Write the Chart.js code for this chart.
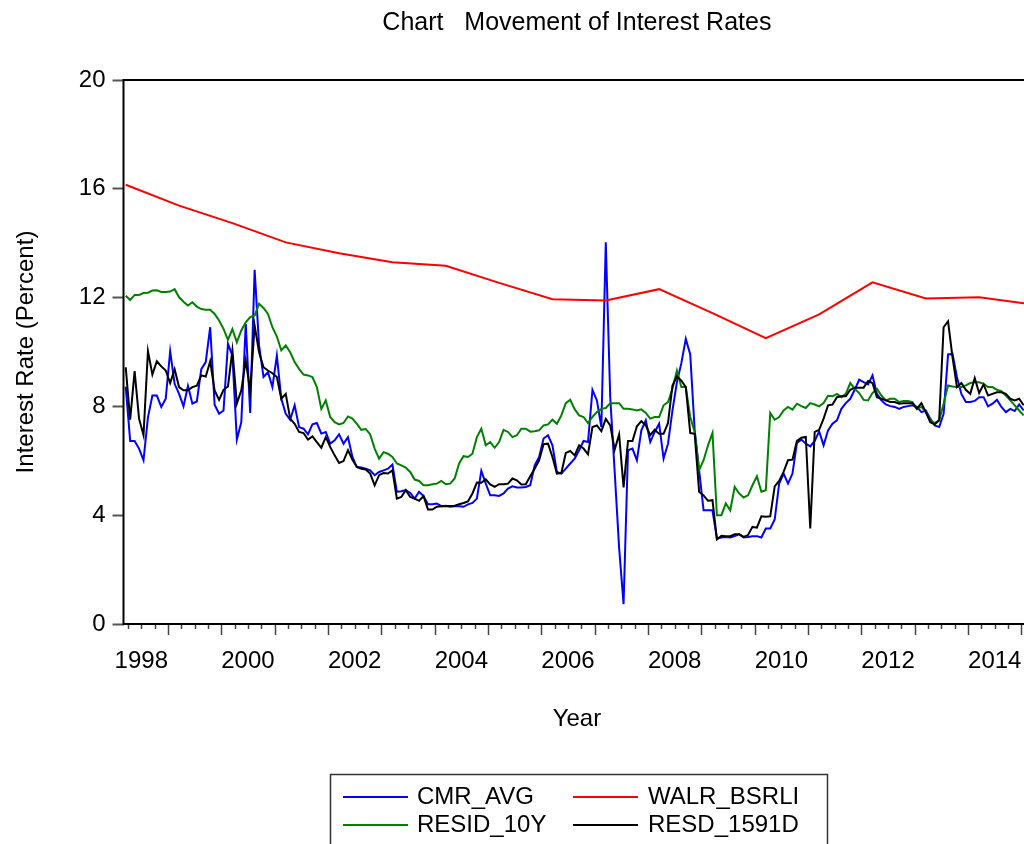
<!DOCTYPE html>
<html>
<head>
<meta charset="utf-8">
<title>Movement of Interest Rates</title>
<script src="https://cdn.jsdelivr.net/npm/chart.js@4.4.1/dist/chart.umd.min.js"></script>
<style>
  html, body { margin: 0; padding: 0; overflow: hidden; background: #fff; }
  #wrap { position: absolute; left: 0; top: 0; width: 1045px; height: 844px; }
</style>
</head>
<body>
<div id="wrap"><canvas id="chart"></canvas></div>
<script>
// monthly sample 1998M03 .. 2015M02 (last visible obs is 2015M01)
const firstYear = 1998;
const firstMonth = 3;
const sampleStart = 1998 + 2 / 12;
const sampleEnd = 2015 + 2 / 12;

const cmrAvg = [
  8.73, 6.73, 6.73, 6.45, 6.02, 7.6, 8.4, 8.4, 7.98, 8.28, 10.03, 8.83, 8.46, 8.0, 8.75, 8.1, 8.18, 9.37, 9.63, 10.91,
  8.06, 7.73, 7.85, 10.3, 9.87, 6.78, 7.42, 11.03, 7.76, 13.02, 10.24, 9.08, 9.26, 8.71,
  9.87, 8.28, 7.73, 7.51, 8.04, 7.24, 7.18, 6.97, 7.34, 7.39, 7.0, 7.06, 6.63, 6.75, 6.97, 6.63, 6.87, 6.14, 5.77, 5.75,
  5.71, 5.65, 5.47, 5.59, 5.65, 5.71, 5.86, 4.86, 4.88, 4.92, 4.82, 4.61, 4.86, 4.7,
  4.40, 4.40, 4.43, 4.33, 4.35, 4.31, 4.33, 4.33, 4.31, 4.40, 4.45, 4.61, 5.63, 5.16, 4.73, 4.73, 4.71, 4.80, 4.98, 5.06,
  5.02, 5.02, 5.04, 5.10, 5.83, 6.14, 6.82, 6.94, 6.57, 5.59, 5.53, 5.71, 5.90,
  6.08,
  6.39, 6.73, 6.69, 8.61, 8.22, 7.24, 14.03, 8.34, 5.6, 2.8, 0.73, 6.39, 6.45, 6.02, 7.12, 7.49, 6.69, 7.06, 7.36, 6.08,
  6.63, 7.85, 8.89, 9.59, 10.48, 9.91, 7.12, 5.65, 4.18, 4.18, 4.18, 3.14, 3.18, 3.20,
  3.18, 3.23, 3.30, 3.18, 3.20, 3.23, 3.23, 3.18, 3.51, 3.51, 3.84, 5.16, 5.53, 5.16, 5.53, 6.66, 6.78, 6.63, 6.53, 6.73,
  7.08, 6.57, 7.12, 7.36, 7.49, 7.91, 8.12, 8.28, 8.61, 8.98, 8.89, 8.81, 9.14,
  8.46, 8.22, 8.07, 8.01, 7.98, 7.91, 7.98, 8.01, 8.04, 7.98, 7.79, 7.85, 7.55, 7.30, 7.24, 7.73, 9.91, 9.93, 9.08, 8.46,
  8.16, 8.16, 8.20, 8.34, 8.34, 8.0, 8.10, 8.24, 7.98, 7.79, 7.91, 7.83, 8.07, 7.85
];

const residTenY = [
  12.07, 11.91, 12.1, 12.1, 12.17, 12.18, 12.26, 12.27, 12.21, 12.21, 12.22, 12.31, 12.01, 11.85, 11.71, 11.83, 11.67, 11.58, 11.55, 11.55,
  11.40, 11.16, 10.85, 10.45, 10.84, 10.36, 10.79, 11.09, 11.28, 11.34, 11.77, 11.62, 11.40, 10.91,
  10.57, 10.06, 10.24, 9.99, 9.63, 9.38, 9.17, 9.14, 9.08, 8.71, 7.91, 8.22, 7.61, 7.42, 7.34, 7.39, 7.63, 7.55, 7.36, 7.14,
  7.17, 6.97, 6.45, 6.08, 6.32, 6.26, 6.14, 5.90, 5.83, 5.75, 5.59, 5.31, 5.26, 5.10,
  5.10, 5.14, 5.16, 5.26, 5.14, 5.16, 5.35, 5.90, 6.17, 6.14, 6.26, 6.87, 7.18, 6.57, 6.69, 6.48, 6.69, 7.14, 7.06, 6.87,
  6.94, 7.18, 7.18, 7.07, 7.09, 7.12, 7.30, 7.34, 7.51, 7.36, 7.67, 8.12, 8.24,
  7.9,
  7.67, 7.61, 7.39, 7.61, 7.79, 7.91, 7.94, 8.12, 8.12, 8.12, 7.91, 7.91, 7.89, 7.85, 7.89, 7.76, 7.55, 7.61, 7.61, 8.04,
  8.16, 8.65, 9.32, 8.71, 8.71, 7.61, 7.06, 5.65, 6.02, 6.57, 7.02, 4.0, 4.0, 4.43,
  4.18, 5.04, 4.80, 4.65, 4.73, 5.10, 5.43, 4.86, 4.92, 7.76, 7.51, 7.61, 7.85, 7.98, 7.88, 8.10, 8.01, 7.94, 8.12, 8.07,
  8.0, 8.12, 8.39, 8.37, 8.46, 8.34, 8.46, 8.86, 8.65, 8.49, 8.24, 8.22, 8.49,
  8.65, 8.40, 8.22, 8.28, 8.28, 8.16, 8.20, 8.20, 8.16, 7.91, 7.98, 7.79, 7.49, 7.39, 7.49, 8.10, 8.77, 8.73, 8.71, 8.71,
  8.77, 8.86, 8.89, 8.89, 8.83, 8.71, 8.71, 8.61, 8.56, 8.40, 8.22, 8.04, 7.85, 7.67
];

const resd1591d = [
  9.44, 7.51, 9.30, 7.55, 6.94, 10.03, 9.17, 9.66, 9.47, 9.32, 8.86, 9.37, 8.71, 8.59, 8.59, 8.71, 8.76, 9.14, 9.10, 9.66,
  8.59, 8.24, 8.61, 8.73, 10.06, 8.1, 8.59, 9.69, 8.56, 10.97, 9.99, 9.44, 9.32, 9.22,
  9.08, 8.28, 8.46, 7.55, 7.36, 7.06, 7.02, 6.78, 6.90, 6.69, 6.48, 6.87, 6.51, 6.20, 5.92, 5.99, 6.39, 6.04, 5.77, 5.71,
  5.68, 5.53, 5.10, 5.47, 5.55, 5.53, 5.65, 4.61, 4.67, 4.92, 4.67, 4.61, 4.53, 4.70,
  4.21, 4.21, 4.31, 4.33, 4.33, 4.34, 4.35, 4.40, 4.45, 4.51, 4.80, 5.20, 5.19, 5.32, 5.13, 5.04, 5.14, 5.14, 5.16, 5.35,
  5.28, 5.13, 5.14, 5.43, 5.71, 6.02, 6.61, 6.63, 6.14, 5.53, 5.55, 6.29, 6.36,
  6.2,
  6.57, 6.45, 6.24, 7.24, 7.30, 7.09, 7.54, 7.30, 6.41, 6.97, 5.02, 6.73, 6.73, 7.27, 7.46, 7.30, 6.94, 7.14, 6.99, 6.99,
  7.39, 8.77, 9.10, 8.95, 8.71, 7.02, 6.99, 4.86, 4.73, 4.53, 4.55, 3.11, 3.24, 3.23,
  3.23, 3.30, 3.30, 3.20, 3.27, 3.57, 3.54, 3.96, 3.94, 3.96, 5.06, 5.26, 5.59, 6.02, 6.04, 6.73, 6.85, 6.88, 3.51, 7.06,
  7.14, 7.55, 8.04, 8.07, 8.34, 8.37, 8.37, 8.61, 8.69, 8.69, 8.69, 8.93, 8.86,
  8.34, 8.28, 8.22, 8.16, 8.16, 8.10, 8.12, 8.12, 8.12, 7.91, 8.12, 7.79, 7.42, 7.34, 7.49, 10.91, 11.13, 9.81, 8.71, 8.86,
  8.61, 8.46, 9.04, 8.49, 8.81, 8.40, 8.46, 8.52, 8.52, 8.46, 8.28, 8.22, 8.28, 8.04
];

// WALR is observed once a year (March)
const walrYears = [1998, 1999, 2000, 2001, 2002, 2003, 2004, 2005, 2006, 2007, 2008, 2009, 2010, 2011, 2012, 2013, 2014, 2015];
const walrBsrli = [16.15, 15.38, 14.74, 14.03, 13.63, 13.30, 13.17, 12.54, 11.94, 11.89, 12.31, 11.43, 10.51, 11.38, 12.56, 11.97, 12.01, 11.75];

const yearLabels = [1998, 2000, 2002, 2004, 2006, 2008, 2010, 2012, 2014];
const yTicks = [0, 4, 8, 12, 16, 20];

const seriesColors = { CMR_AVG: '#0000ff', WALR_BSRLI: '#ff0000', RESID_10Y: '#008000', RESD_1591D: '#000000' };

function monthPoints(values) {
  return values.map((v, i) => ({ x: firstYear + (firstMonth - 1 + i + 0.5) / 12, y: v }));
}

const FONT = '"Liberation Sans", Arial, sans-serif';
Chart.defaults.font.family = FONT;
Chart.defaults.font.size = 24;
Chart.defaults.color = '#000';

// plot frame, quarter/year ticks under the x axis
const frame = {
  id: 'frame',
  afterDatasetsDraw(chart) {
    const { ctx, chartArea: a } = chart;
    const xs = chart.scales.x;
    ctx.save();
    ctx.strokeStyle = '#444';
    ctx.lineWidth = 1.5;
    for (let y = firstYear; y <= 2015; y++) {
      for (let q = 0; q < 4; q++) {
        const v = y + q / 4;
        if (v <= sampleStart || v >= sampleEnd) continue;
        const px = Math.round(xs.getPixelForValue(v)) + 0.5;
        ctx.beginPath();
        ctx.moveTo(px, a.bottom);
        ctx.lineTo(px, a.bottom + (q === 0 ? 11 : 5));
        ctx.stroke();
      }
    }
    ctx.strokeStyle = '#000';
    ctx.lineWidth = 2;
    ctx.strokeRect(a.left, a.top, a.right - a.left, a.bottom - a.top);
    ctx.restore();
  }
};

// boxed two-column legend at the bottom
const boxLegend = {
  id: 'boxLegend',
  afterDraw(chart) {
    const ctx = chart.ctx;
    const ds = chart.data.datasets;
    ctx.save();
    ctx.strokeStyle = '#333';
    ctx.lineWidth = 1.5;
    ctx.strokeRect(330.5, 774.5, 497, 100);
    ctx.font = '24px ' + FONT;
    ctx.textBaseline = 'middle';
    ds.forEach((d, i) => {
      const col = i % 2, row = Math.floor(i / 2);
      const lx = col === 0 ? 343 : 573;
      const ly = row === 0 ? 797 : 825;
      ctx.beginPath();
      ctx.strokeStyle = seriesColors[d.label];
      ctx.lineWidth = 2;
      ctx.moveTo(lx, ly);
      ctx.lineTo(lx + 65, ly);
      ctx.stroke();
      ctx.fillStyle = '#000';
      ctx.fillText(d.label, col === 0 ? 417 : 648, ly);
    });
    ctx.restore();
  }
};

const lineStyle = { borderWidth: 2, pointRadius: 0, tension: 0, fill: false };

new Chart(document.getElementById('chart'), {
  type: 'line',
  data: {
    datasets: [
      { label: 'CMR_AVG', data: monthPoints(cmrAvg), borderColor: seriesColors.CMR_AVG, order: 3, ...lineStyle },
      { label: 'WALR_BSRLI', data: walrYears.map((y, i) => ({ x: y + 2.5 / 12, y: walrBsrli[i] })), borderColor: seriesColors.WALR_BSRLI, order: 2, ...lineStyle },
      { label: 'RESID_10Y', data: monthPoints(residTenY), borderColor: seriesColors.RESID_10Y, order: 1, ...lineStyle },
      { label: 'RESD_1591D', data: monthPoints(resd1591d), borderColor: seriesColors.RESD_1591D, order: 0, ...lineStyle }
    ]
  },
  options: {
    responsive: true,
    maintainAspectRatio: false,
    animation: false,
    layout: { padding: { left: 0, right: 14.5, top: 0, bottom: 110 } },
    plugins: {
      legend: { display: false },
      tooltip: { enabled: false },
      title: {
        display: true,
        fullSize: false,
        text: 'Chart   Movement of Interest Rates',
        color: '#000',
        font: { size: 25, weight: 'normal' },
        padding: { top: 8, bottom: 42 }
      }
    },
    scales: {
      x: {
        type: 'linear',
        min: sampleStart,
        max: sampleEnd,
        afterBuildTicks: s => { s.ticks = yearLabels.map(y => ({ value: y + 0.5 })); },
        afterFit: s => { s.height = 110; },
        ticks: {
          callback: v => String(Math.floor(v)),
          maxRotation: 0,
          autoSkip: false,
          padding: 23,
          color: '#000'
        },
        grid: { display: false, drawTicks: false },
        border: { display: false },
        title: { display: true, text: 'Year', color: '#000', padding: { top: 0, bottom: 0 } }
      },
      y: {
        min: 0,
        max: 20,
        afterBuildTicks: s => { s.ticks = yTicks.map(v => ({ value: v })); },
        afterFit: s => { s.width = 123.5; },
        ticks: { padding: 7, color: '#000' },
        grid: { display: true, drawOnChartArea: false, drawTicks: true, tickLength: 11, tickColor: '#555', tickWidth: 2 },
        border: { display: false },
        title: { display: true, text: 'Interest Rate (Percent)', color: '#000', padding: { top: 12, bottom: 0 } }
      }
    }
  },
  plugins: [frame, boxLegend]
});
</script>
</body>
</html>
